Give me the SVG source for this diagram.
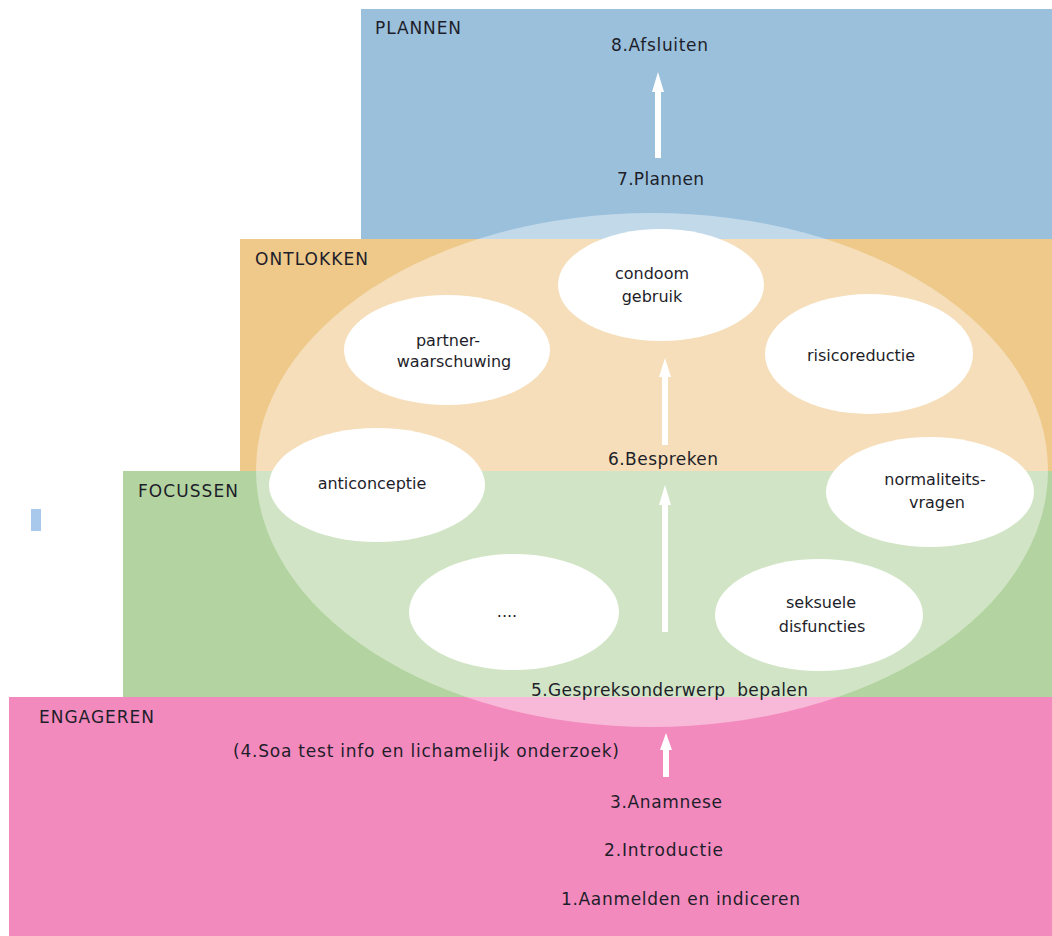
<svg xmlns="http://www.w3.org/2000/svg" width="1052" height="936" viewBox="0 0 1052 936">
<style>
.lbl{font-family:"DejaVu Sans","Liberation Sans",sans-serif;font-size:17px;fill:#1e1e2a}
.olbl{font-family:"DejaVu Sans","Liberation Sans",sans-serif;font-size:16px;fill:#1e1e2a;text-anchor:middle}
.oval{fill:#ffffff}
.arr{fill:#ffffff}
</style>
<rect width="1052" height="936" fill="#ffffff"/>
<g id="plannen">
<rect x="361" y="9" width="691" height="230" fill="#9ac0dc"/>
<text class="lbl" x="375" y="34" textLength="86" lengthAdjust="spacing">PLANNEN</text>
<text class="lbl" x="611" y="51" textLength="97" lengthAdjust="spacing">8.Afsluiten</text>
<text class="lbl" x="617" y="185" textLength="87" lengthAdjust="spacing">7.Plannen</text>
</g>
<g id="ontlokken">
<rect x="240" y="239" width="812" height="232" fill="#eec98a"/>
<text class="lbl" x="255" y="265" textLength="113" lengthAdjust="spacing">ONTLOKKEN</text>
</g>
<g id="focussen">
<rect x="123" y="471" width="929" height="226" fill="#b3d4a1"/>
<text class="lbl" x="138" y="497" textLength="100" lengthAdjust="spacing">FOCUSSEN</text>
</g>
<g id="engageren">
<rect x="9" y="697" width="1043" height="239" fill="#f38abe"/>
<text class="lbl" x="39" y="723" textLength="115" lengthAdjust="spacing">ENGAGEREN</text>
<text class="lbl" x="233" y="757" textLength="386" lengthAdjust="spacing">(4.Soa test info en lichamelijk onderzoek)</text>
<text class="lbl" x="610" y="808" textLength="112" lengthAdjust="spacing">3.Anamnese</text>
<text class="lbl" x="604" y="856" textLength="119" lengthAdjust="spacing">2.Introductie</text>
<text class="lbl" x="561" y="905" textLength="239" lengthAdjust="spacing">1.Aanmelden en indiceren</text>
</g>
<rect id="marker-rect" x="31" y="509" width="10" height="22" fill="#a8c9ec"/>
<g id="overlay">
<ellipse cx="652" cy="470" rx="396" ry="257" fill="#ffffff" fill-opacity="0.4"/>
</g>
<g id="bespreken">
<text class="lbl" x="608" y="465" textLength="110" lengthAdjust="spacing">6.Bespreken</text>
</g>
<g id="gespreksonderwerp">
<text class="lbl" x="531" y="696" xml:space="preserve" textLength="277" lengthAdjust="spacing">5.Gespreksonderwerp  bepalen</text>
</g>
<g id="condoom">
<ellipse class="oval" cx="661" cy="285" rx="103" ry="56"/>
<text class="olbl" x="652" y="279">condoom</text>
<text class="olbl" x="652" y="302">gebruik</text>
</g>
<g id="partner">
<ellipse class="oval" cx="447" cy="350" rx="103" ry="55"/>
<text class="olbl" x="448" y="346">partner-</text>
<text class="olbl" x="454" y="367">waarschuwing</text>
</g>
<g id="risico">
<ellipse class="oval" cx="869" cy="354" rx="104" ry="60"/>
<text class="olbl" x="861" y="361">risicoreductie</text>
</g>
<g id="anticonceptie">
<ellipse class="oval" cx="377" cy="485" rx="108" ry="57"/>
<text class="olbl" x="372" y="489">anticonceptie</text>
</g>
<g id="normaliteit">
<ellipse class="oval" cx="930" cy="492" rx="104" ry="55"/>
<text class="olbl" x="935" y="485">normaliteits-</text>
<text class="olbl" x="937" y="508">vragen</text>
</g>
<g id="overig">
<ellipse class="oval" cx="514" cy="612" rx="105" ry="58"/>
<text class="olbl" x="507" y="617">....</text>
</g>
<g id="seksueel">
<ellipse class="oval" cx="819" cy="615" rx="104" ry="56"/>
<text class="olbl" x="821" y="608">seksuele</text>
<text class="olbl" x="822" y="632">disfuncties</text>
</g>
<g id="connectors">
<polygon class="arr" points="658,72 664,92 661,92 661,158 655,158 655,92 652,92"/>
<polygon class="arr" points="665,358 671,377 668,377 668,445 662,445 662,377 659,377"/>
<polygon class="arr" points="665,485 671,505 668,505 668,632 662,632 662,505 659,505"/>
<polygon class="arr" points="666,733 672,750 669,750 669,777 663,777 663,750 660,750"/>
</g>
</svg>
